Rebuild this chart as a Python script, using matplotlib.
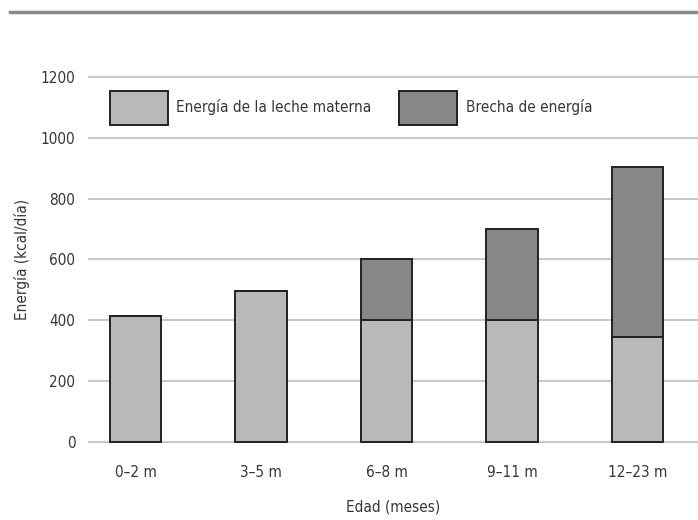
import matplotlib.pyplot as plt
from matplotlib.lines import Line2D
import numpy as np

plt.rcParams['font.family'] = ['DejaVu Sans']
plt.rcParams['font.stretch'] = 'condensed'

# Data
categories = ['0–2 m', '3–5 m', '6–8 m', '9–11 m', '12–23 m']
leche_materna = [415, 495, 400, 400, 345]
brecha = [0, 0, 200, 300, 560]
yticks = [0, 200, 400, 600, 800, 1000, 1200]

color_leche = '#b9b9b9'
color_brecha = '#878787'
text_color = '#363636'

fig = plt.figure(figsize=(6.98, 5.2), dpi=100)
ax = fig.add_axes([0.126, 0.144, 0.874, 0.714])

x = np.arange(len(categories))
width = 0.41

ax.bar(x, leche_materna, width, color=color_leche, edgecolor='#222222',
       linewidth=1.4, label='Energía de la leche materna', zorder=3)
ax.bar(x, brecha, width, bottom=leche_materna, color=color_brecha,
       edgecolor='#222222', linewidth=1.4, label='Brecha de energía', zorder=3)

ax.set_xlim(-0.38, 4.48)
ax.set_ylim(-10, 1210)
ax.set_yticks(yticks)
ax.set_xticks(x)
ax.set_xticklabels(categories)
ax.tick_params(axis='both', length=0, labelsize=11, colors=text_color)
ax.tick_params(axis='y', pad=9)
ax.tick_params(axis='x', pad=14)
ax.grid(True, axis='y', color='#c8c8c8', linewidth=1.5, zorder=0)
for s in ax.spines.values():
    s.set_visible(False)

ax.set_xlabel('Edad (meses)', fontsize=11, color=text_color, labelpad=14)
ax.set_ylabel('Energía (kcal/día)', fontsize=11, color=text_color, labelpad=8)

ax.legend(loc='upper left', bbox_to_anchor=(0.036, 0.955), ncol=2,
          frameon=False, fontsize=11, handlelength=3.8, handleheight=3.1,
          handletextpad=0.55, columnspacing=1.8, borderpad=0, borderaxespad=0,
          labelcolor=text_color)

# top rule
fig.add_artist(Line2D([0.014, 1.0], [0.977, 0.977], color='#8a8a8a',
                      linewidth=2.5, transform=fig.transFigure))

fig.savefig('out.png', dpi=100)
